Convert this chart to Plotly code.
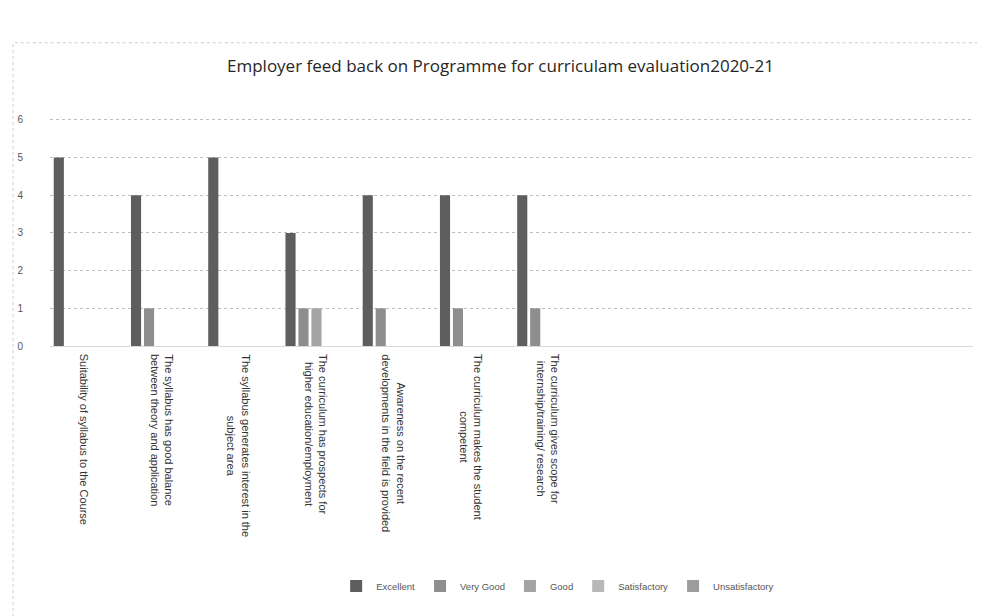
import plotly.graph_objects as go

categories = [
    "Suitability of syllabus to the Course",
    "The syllabus has good balance<br>between theory and application",
    "The syllabus generates interest in the<br>subject area",
    "The curriculum has prospects for<br>higher education/employment",
    "Awareness on the recent<br>developments in the field is provided",
    "The curriculum makes the student<br>competent",
    "The curriculum gives scope for<br>internship/training/ research",
]

excellent = [5, 4, 5, 3, 4, 4, 4]
very_good = [0, 1, 0, 1, 1, 1, 1]
good = [0, 0, 0, 1, 0, 0, 0]
satisfactory = [0, 0, 0, 0, 0, 0, 0]
unsatisfactory = [0, 0, 0, 0, 0, 0, 0]

series = [
    ("Excellent", excellent, "#5e5e5e"),
    ("Very Good", very_good, "#8e8e8e"),
    ("Good", good, "#a4a4a4"),
    ("Satisfactory", satisfactory, "#b8b8b8"),
    ("Unsatisfactory", unsatisfactory, "#9c9c9c"),
]

fig = go.Figure()
for name, vals, color in series:
    fig.add_trace(go.Bar(name=name, x=categories, y=vals, marker_color=color,
                         marker_line_width=0))

fig.update_layout(
    width=985, height=616,
    paper_bgcolor="white", plot_bgcolor="white",
    barmode="group", bargap=0.16, bargroupgap=0.22,
    margin=dict(l=42, r=20, t=110, b=278),
    title=dict(text="Employer feed back on Programme for curriculam evaluation2020-21",
               x=0.5, xanchor="center", y=1 - 58 / 616, yanchor="middle",
               font=dict(family="Open Sans", size=17, color="#262626")),
    font=dict(family="Liberation Sans", color="#444444"),
    legend=dict(orientation="h", x=0.55, xanchor="center", yref="container",
                y=1 - 578 / 616, yanchor="middle",
                font=dict(size=9.5, color="#555555"), itemwidth=30),
    showlegend=True,
)

fig.update_xaxes(
    type="category", range=[-0.45, 11.5], showticklabels=False, showgrid=False,
    showline=True, linecolor="#d9d9d9", linewidth=1, ticks="", automargin=False,
)
fig.update_yaxes(
    range=[0, 6.05], dtick=1, showgrid=True, gridcolor="#bfbfbf", griddash="dot",
    gridwidth=1, zeroline=False, tickfont=dict(size=10, color="#555555"),
    showline=False, ticks="", ticklabelstandoff=26, automargin=False,
)

for cat in categories:
    fig.add_annotation(x=cat, xref="x", y=0, yref="paper", text=cat,
                       textangle=90, showarrow=False, align="center",
                       xanchor="center", yanchor="top", yshift=-6,
                       font=dict(size=11, color="#333333", family="Liberation Sans"))

fig.add_shape(type="rect", xref="paper", yref="paper", x0=-0.04, x1=1.01,
              y0=-1.4, y1=1.33, line=dict(color="#cccccc", width=1, dash="dot"),
              fillcolor="rgba(0,0,0,0)", layer="below")

fig.write_html("out.html")
